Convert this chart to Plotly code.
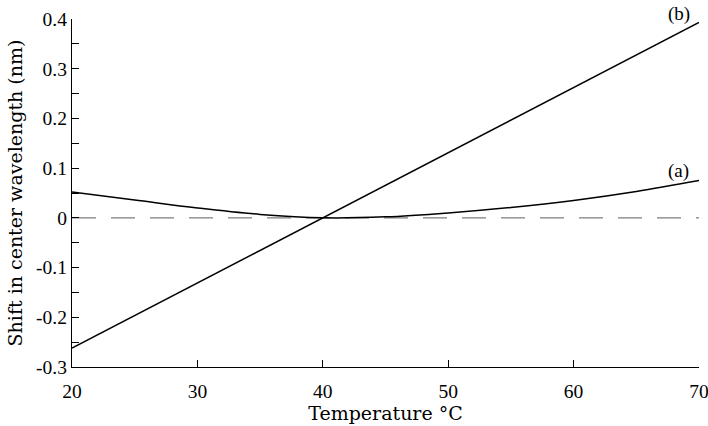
import plotly.graph_objects as go

temperature = [20, 25, 30, 35, 40, 45, 50, 55, 60, 65, 70]
shift_a = [0.052, 0.036, 0.020, 0.007, 0.000, 0.002, 0.010, 0.021, 0.035, 0.053, 0.075]
line_b_x = [20, 70]
line_b_y = [-0.262, 0.393]
ref_x = [20, 70]
ref_y = [0, 0]

tick_font = "Liberation Serif"
title_font = "DejaVu Serif"

fig = go.Figure()
fig.add_trace(go.Scatter(x=ref_x, y=ref_y, mode="lines",
                         line=dict(color="#7f7f7f", width=1.4, dash="24px,15px"),
                         showlegend=False))
fig.add_trace(go.Scatter(x=temperature, y=shift_a, mode="lines",
                         line=dict(color="black", width=1.5, shape="spline"),
                         showlegend=False))
fig.add_trace(go.Scatter(x=line_b_x, y=line_b_y, mode="lines",
                         line=dict(color="black", width=1.5),
                         showlegend=False))

fig.add_annotation(x=68.37, xref="x", y=1.015, yref="paper", text="(b)", showarrow=False,
                   xanchor="center", yanchor="middle", borderpad=0,
                   font=dict(family=tick_font, size=19, color="black"))
fig.add_annotation(x=68.37, xref="x", y=0.563, yref="paper", text="(a)", showarrow=False,
                   xanchor="center", yanchor="middle", borderpad=0,
                   font=dict(family=tick_font, size=19, color="black"))

fig.update_layout(
    width=708, height=426,
    margin=dict(l=72, r=9, t=19, b=59, autoexpand=False),
    paper_bgcolor="white", plot_bgcolor="white",
    font=dict(family=tick_font, size=20, color="black"),
    showlegend=False,
)
fig.update_xaxes(
    range=[20, 70], tickvals=[20, 30, 40, 50, 60, 70],
    ticks="inside", ticklen=7, tickwidth=1.3, tickcolor="black",
    showline=True, linecolor="black", linewidth=1.3,
    showgrid=False, zeroline=False, automargin=False,
    ticklabeloverflow="allow", ticklabelstandoff=6,
    title=dict(text="Temperature °C", standoff=2, font=dict(family=title_font, size=19)),
    tickfont=dict(family=tick_font, size=19.5),
)
fig.update_yaxes(
    range=[-0.3, 0.4], tickvals=[-0.3, -0.2, -0.1, 0, 0.1, 0.2, 0.3, 0.4],
    ticktext=["-0.3", "-0.2", "-0.1", "0", "0.1", "0.2", "0.3", "0.4"],
    ticks="inside", ticklen=7, tickwidth=1.3, tickcolor="black",
    minor=dict(ticks="inside", ticklen=7, tickwidth=1.3, tickcolor="black", dtick=0.05, tick0=0),
    showline=True, linecolor="black", linewidth=1.3,
    showgrid=False, zeroline=False, automargin=False,
    ticklabeloverflow="allow",
    title=dict(text="Shift in center wavelength (nm)", standoff=8, font=dict(family=title_font, size=19)),
    tickfont=dict(family=tick_font, size=19.5),
)

fig.write_html("out.html")
